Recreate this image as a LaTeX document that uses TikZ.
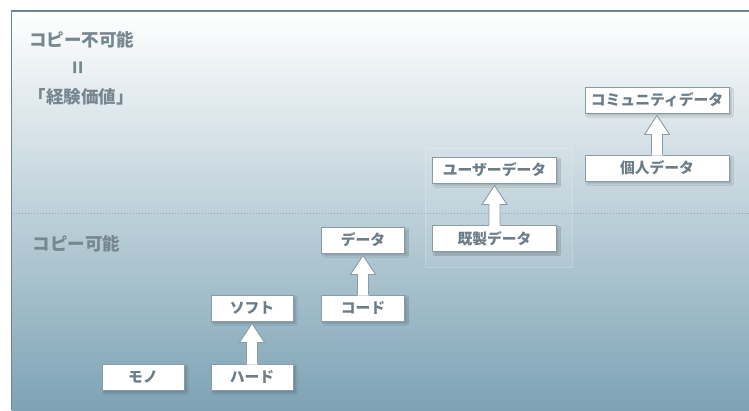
\documentclass[tikz,border=0pt]{standalone}
\usepackage{fontspec}
\newfontfamily\jp{Noto Sans CJK JP}
\usetikzlibrary{calc,shadows.blur}
\definecolor{txt}{HTML}{6C7D88}
\definecolor{lbl}{HTML}{76878F}
\definecolor{edge}{HTML}{8B9BA5}
\definecolor{frame}{HTML}{6E848E}
\definecolor{bgmid}{HTML}{CDE8F6}
\definecolor{bgbot}{HTML}{7DA3B5}
\definecolor{dotc}{HTML}{8FABB8}
\tikzset{
  x=1pt, y=-1pt,
  stagebox/.style={draw=edge, line width=0.9pt, fill=white, inner sep=0pt,
    minimum height=26pt, text=txt, font=\jp\bfseries\fontsize{14.8}{16}\selectfont,
    blur shadow={shadow xshift=2.5pt, shadow yshift=-2.5pt, shadow blur steps=6, shadow opacity=22}},
  sidelabel/.style={text=lbl, font=\jp\bfseries\fontsize{17.5}{18}\selectfont, inner sep=0pt},
  arrowfill/.style={fill=white},
  arrowline/.style={draw=edge, line width=0.9pt, line join=miter}
}
\newcommand{\blockarrow}[2]{%
  \fill[arrowfill] let \p1=(#1.north), \p2=(#2.south) in
    ({\x1-5.5pt},{\y1-1pt}) -- ({\x1-5.5pt},{\y2-21pt}) -- ({\x1-12.5pt},{\y2-21pt})
    -- ({\x1},{\y2-2pt}) -- ({\x1+12.5pt},{\y2-21pt}) -- ({\x1+5.5pt},{\y2-21pt})
    -- ({\x1+5.5pt},{\y1-1pt}) -- cycle;
  \draw[arrowline] let \p1=(#1.north), \p2=(#2.south) in
    ({\x1-5.5pt},{\y1}) -- ({\x1-5.5pt},{\y2-21pt}) -- ({\x1-12.5pt},{\y2-21pt})
    -- ({\x1},{\y2-2pt}) -- ({\x1+12.5pt},{\y2-21pt}) -- ({\x1+5.5pt},{\y2-21pt})
    -- ({\x1+5.5pt},{\y1});
}
\begin{document}
\begin{tikzpicture}
\useasboundingbox (0,0) rectangle (749,410);
% background
\shade[top color=white, middle color=bgmid, bottom color=bgbot] (11.5,11) rectangle (749,410);
% faint panel
\fill[white, opacity=0.06] (425,148) rectangle (572,267);
\draw[white, opacity=0.22, line width=0.6pt] (425,148) rectangle (572,267);
% frame
\draw[frame, line width=1.5pt] (11.5,410) -- (11.5,11) -- (749,11);
% dotted separator
\coordinate (sepL) at (12.5,213);
\coordinate (sepR) at (749,213);
\draw[dotc, line width=1pt, dash pattern=on 1pt off 2pt] (sepL) -- (sepR);
% side labels
\node[sidelabel] (nocopy) at (81.5,40) {コピー不可能};
\node[sidelabel, rotate=90] (eq) at (80,68) {{\fontsize{22}{22}\selectfont =}};
\node[sidelabel] (exp) at (81,97) {「経験価値」};
\node[sidelabel] (copy) at (76.5,244) {コピー可能};
% boxes
\node[stagebox, minimum width=144pt] (commu) at (657,100) {コミュニティデータ};
\node[stagebox, minimum width=144pt] (kojin) at (657,168) {個人データ};
\node[stagebox, minimum width=124pt] (user) at (494.5,170) {ユーザーデータ};
\node[stagebox, minimum width=124pt] (kisei) at (494.5,238.5) {既製データ};
\node[stagebox, minimum width=83pt] (data) at (363,240) {データ};
\node[stagebox, minimum width=83pt] (code) at (363,308) {コード};
\node[stagebox, minimum width=82pt] (soft) at (252,308) {ソフト};
\node[stagebox, minimum width=82pt] (hard) at (252,377) {ハード};
\node[stagebox, minimum width=82pt] (mono) at (143,377) {モノ};
% arrows
\blockarrow{kojin}{commu}
\blockarrow{kisei}{user}
\blockarrow{code}{data}
\blockarrow{hard}{soft}
\end{tikzpicture}
\end{document}
